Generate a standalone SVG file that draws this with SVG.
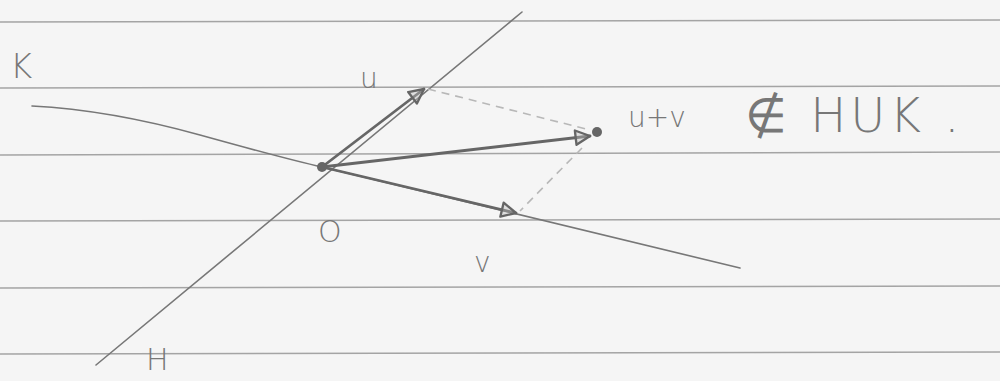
<svg xmlns="http://www.w3.org/2000/svg" width="1000" height="381" viewBox="0 0 1000 381">
<defs>
<style>
.rule{stroke:#a4a4a4;stroke-width:1.6;fill:none}
.ln{stroke:#777;stroke-width:1.6;fill:none;stroke-linecap:round}
.vec{stroke:#666;stroke-width:2.8;fill:none;stroke-linecap:round}
.dash{stroke:#b8b8b8;stroke-width:1.6;fill:none;stroke-dasharray:8 6}
.lbl{font-family:"DejaVu Sans","Liberation Sans",sans-serif;fill:#777;font-weight:200}
</style>
<marker id="ah" viewBox="0 0 10 10" refX="9" refY="5" markerWidth="18" markerHeight="18" orient="auto" markerUnits="userSpaceOnUse">
<path d="M1,1 L9,5 L1,9 Z" fill="#bbb" fill-opacity="0.4" stroke="#666" stroke-width="1.3" stroke-linejoin="round"/>
</marker>
</defs>
<rect width="1000" height="381" fill="#f5f5f5"/>
<g id="paper">
<line class="rule" x1="0" y1="22" x2="1000" y2="20"/>
<line class="rule" x1="0" y1="88" x2="1000" y2="86"/>
<line class="rule" x1="0" y1="155" x2="1000" y2="152"/>
<line class="rule" x1="0" y1="221" x2="1000" y2="219"/>
<line class="rule" x1="0" y1="288" x2="1000" y2="286"/>
<line class="rule" x1="0" y1="354" x2="1000" y2="352"/>
</g>
<g id="connectors">
<line id="lineH" class="ln" x1="96" y1="365" x2="522" y2="12"/>
<path id="lineK" class="ln" d="M32,106 Q110,110 200,135 T322,167 L740,268"/>
<line class="vec" x1="322" y1="167" x2="424" y2="89" marker-end="url(#ah)"/>
<line class="vec" x1="322" y1="167" x2="590" y2="136" marker-end="url(#ah)"/>
<line class="vec" x1="322" y1="167" x2="516" y2="213" marker-end="url(#ah)"/>
<line class="dash" x1="428" y1="89" x2="590" y2="130"/>
<line class="dash" x1="582" y1="148" x2="520" y2="211"/>
</g>
<g id="O"><circle cx="322" cy="167" r="5" fill="#666"/>
<text class="lbl" x="318" y="242" font-size="30">O</text></g>
<g id="uv"><circle cx="597" cy="132" r="5" fill="#666"/></g>
<g id="labels">
<text class="lbl" x="10" y="78" font-size="34">K</text>
<text class="lbl" x="360" y="88" font-size="28">u</text>
<text class="lbl" x="474" y="272" font-size="28">v</text>
<text class="lbl" x="146" y="370" font-size="30">H</text>
<text class="lbl" x="628" y="127" font-size="28">u+v</text>
<text class="lbl" x="745" y="132" font-size="48" letter-spacing="4">∉ HUK .</text>
</g>
</svg>
